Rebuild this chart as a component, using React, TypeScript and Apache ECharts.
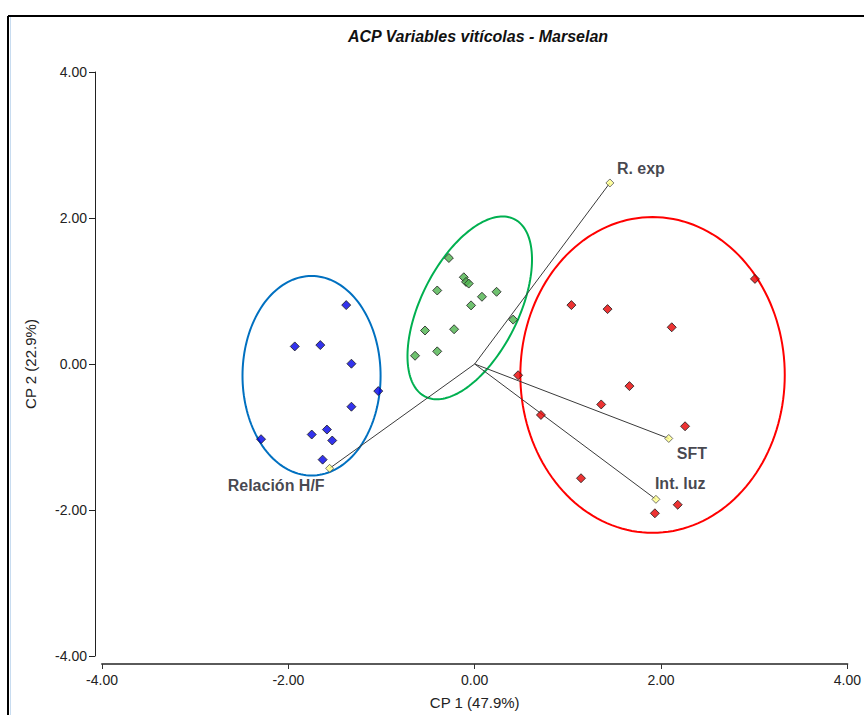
import React, { useEffect, useRef } from "react";
import * as echarts from "echarts";

// ---- data ----
const blueX = [-1.379, -1.931, -1.657, -1.323, -1.035, -1.323, -2.293, -1.749, -1.586, -1.529, -1.632];
const blueY = [0.807, 0.241, 0.259, 0.004, -0.371, -0.585, -1.03, -0.966, -0.898, -1.048, -1.31];

const greenX = [-0.277, -0.117, -0.093, -0.064, -0.402, 0.235, 0.078, -0.039, 0.413, -0.533, -0.221, -0.402, -0.64];
const greenY = [1.452, 1.188, 1.125, 1.102, 1.007, 0.989, 0.921, 0.803, 0.608, 0.459, 0.476, 0.173, 0.113];

const redX = [1.038, 1.426, 2.115, 0.466, 1.661, 1.358, 0.711, 2.258, 1.141, 2.179, 1.934, 3.008];
const redY = [0.807, 0.752, 0.503, -0.154, -0.303, -0.554, -0.698, -0.853, -1.565, -1.928, -2.045, 1.166];

const vectorNames = ["R. exp", "SFT", "Int. luz", "Relación H/F"];
const vectorX = [1.451, 2.083, 1.945, -1.557];
const vectorY = [2.48, -1.02, -1.854, -1.429];

// confidence ellipses: centre and two conjugate semi-diameters (data units)
const ellipseCenterX = [-1.751, -0.053, 1.909];
const ellipseCenterY = [-0.161, 0.769, -0.15];
const ellipseAxisA = [[0.741, 0], [0.478, 1.216], [1.419, 0]];
const ellipseAxisB = [[0, 1.367], [0.467, -0.298], [0, 2.163]];

const xTicks = [-4, -2, 0, 2, 4];
const yTicks = [-4, -2, 0, 2, 4];

// ---- styles ----
const ellipseColors = ["#0070c0", "#00b050", "#ff0000"];
const labelPlacement: Record<string, { align: string; offset: number[] }> = {
  "R. exp": { align: "left", offset: [7, -14] },
  SFT: { align: "left", offset: [8, 15] },
  "Int. luz": { align: "left", offset: [-1, -16] },
  "Relación H/F": { align: "right", offset: [-5, 17] },
};
const FONT = '"Liberation Sans", Arial, sans-serif';

const zip = (xs: number[], ys: number[]) => xs.map((x, i) => [x, ys[i]]);

export default function App() {
  const ref = useRef<HTMLDivElement>(null);
  useEffect(() => {
    if (!ref.current) return;
    const chart = echarts.init(ref.current, undefined, { renderer: "svg" });
    const ellipseData = ellipseCenterX.map((cx, i) => [
      cx,
      ellipseCenterY[i],
      ellipseAxisA[i][0],
      ellipseAxisA[i][1],
      ellipseAxisB[i][0],
      ellipseAxisB[i][1],
    ]);
    const diamond = (color: string) => ({
      color,
      borderColor: "#1a1a1a",
      borderWidth: 1,
    });
    const option: any = {
      animation: false,
      backgroundColor: "#ffffff",
      grid: { left: 102, right: 12, top: 72, bottom: 54 },
      graphic: [
        { type: "line", shape: { x1: 8, y1: 16, x2: 864, y2: 16 }, style: { stroke: "#000", lineWidth: 2 } },
        { type: "line", shape: { x1: 8, y1: 16, x2: 8, y2: 715 }, style: { stroke: "#000", lineWidth: 2 } },
        { type: "line", shape: { x1: 10.5, y1: 17, x2: 10.5, y2: 715 }, style: { stroke: "#c8dcf0", lineWidth: 1 } },
        {
          type: "text",
          x: 478,
          y: 36,
          style: {
            text: "ACP Variables vitícolas - Marselan",
            fontFamily: FONT,
            fontSize: 16,
            fontWeight: "bold",
            fontStyle: "italic",
            fill: "#111",
            align: "center",
            verticalAlign: "middle",
          },
        },
      ],
      xAxis: {
        type: "value",
        min: xTicks[0],
        max: xTicks[xTicks.length - 1],
        interval: xTicks[1] - xTicks[0],
        offset: 8,
        name: "CP 1 (47.9%)",
        nameLocation: "middle",
        nameGap: 31,
        nameTextStyle: { fontFamily: FONT, fontSize: 15, color: "#222" },
        axisLine: { show: true, onZero: false, lineStyle: { color: "#5a5a5a", width: 2 } },
        axisTick: { show: true, length: 5, lineStyle: { color: "#333" } },
        axisLabel: {
          margin: 9,
          fontFamily: FONT,
          fontSize: 14,
          color: "#222",
          formatter: (v: number) => v.toFixed(2),
        },
        splitLine: { show: false },
      },
      yAxis: {
        type: "value",
        min: yTicks[0],
        max: yTicks[yTicks.length - 1],
        interval: yTicks[1] - yTicks[0],
        offset: 7,
        name: "CP 2 (22.9%)",
        nameLocation: "middle",
        nameGap: 57,
        nameTextStyle: { fontFamily: FONT, fontSize: 15, color: "#222" },
        axisLine: { show: true, onZero: false, lineStyle: { color: "#222", width: 1 } },
        axisTick: { show: true, length: 6, lineStyle: { color: "#222" } },
        axisLabel: {
          margin: 8,
          fontFamily: FONT,
          fontSize: 14,
          color: "#222",
          formatter: (v: number) => v.toFixed(2),
        },
        splitLine: { show: false },
      },
      series: [
        {
          type: "custom",
          silent: true,
          z: 1,
          encode: { x: 0, y: 1 },
          data: ellipseData,
          renderItem: (params: any, api: any) => {
            const cx = api.value(0), cy = api.value(1);
            const ax = api.value(2), ay = api.value(3);
            const bx = api.value(4), by = api.value(5);
            const pts: number[][] = [];
            const n = 160;
            for (let k = 0; k <= n; k++) {
              const t = (k / n) * Math.PI * 2;
              pts.push(api.coord([cx + ax * Math.cos(t) + bx * Math.sin(t), cy + ay * Math.cos(t) + by * Math.sin(t)]));
            }
            return {
              type: "polyline",
              shape: { points: pts },
              style: { fill: "none", stroke: ellipseColors[params.dataIndex], lineWidth: 2 },
            };
          },
        },
        ...vectorNames.map((nm, i) => ({
          type: "line",
          name: "vec-" + nm,
          z: 2,
          silent: true,
          showSymbol: false,
          symbol: "none",
          lineStyle: { color: "#3a3a3a", width: 1 },
          data: [[0, 0], [vectorX[i], vectorY[i]]],
        })),
        {
          type: "scatter",
          z: 3,
          symbol: "diamond",
          symbolSize: 9,
          itemStyle: diamond("#0000e8"),
          data: zip(blueX, blueY),
        },
        {
          type: "scatter",
          z: 3,
          symbol: "diamond",
          symbolSize: 9,
          itemStyle: diamond("#4cb34c"),
          data: zip(greenX, greenY),
        },
        {
          type: "scatter",
          z: 3,
          symbol: "diamond",
          symbolSize: 9,
          itemStyle: diamond("#e80000"),
          data: zip(redX, redY),
        },
        {
          type: "scatter",
          z: 4,
          symbol: "diamond",
          symbolSize: 8,
          itemStyle: { color: "#ffff88", borderColor: "#555", borderWidth: 1 },
          data: vectorNames.map((nm, i) => ({
            name: nm,
            value: [vectorX[i], vectorY[i]],
            label: {
              show: true,
              position: "inside",
              align: labelPlacement[nm].align,
              verticalAlign: "middle",
              offset: labelPlacement[nm].offset,
              formatter: "{b}",
              fontFamily: FONT,
              fontSize: 16,
              fontWeight: "bold",
              color: "#15151f",
            },
          })),
        },
      ],
    };
    chart.setOption(option);
    return () => chart.dispose();
  }, []);
  return (
    <div
      ref={ref}
      style={{ position: "fixed", left: 0, top: 0, width: 864, height: 715, background: "#fff" }}
    />
  );
}
